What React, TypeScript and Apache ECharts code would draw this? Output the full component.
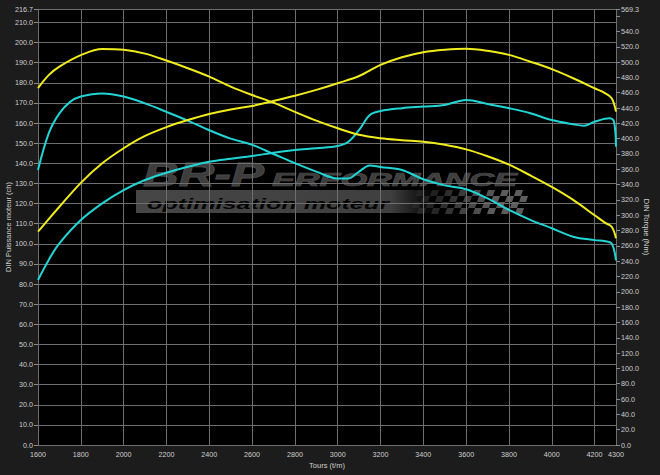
import React, { useEffect, useRef } from "react";
import * as echarts from "echarts";

// Yellow torque (Nm, right axis)
const rpmYellowTorque = [1600, 1650, 1700, 1800, 1900, 2000, 2100, 2200, 2300, 2400, 2500, 2600, 2700, 2800, 2900, 3000, 3100, 3200, 3300, 3400, 3500, 3600, 3700, 3800, 3900, 4000, 4100, 4200, 4250, 4280, 4300];
const yellowTorque = [466, 483, 494, 509, 517, 516, 511, 502, 492, 481, 468, 457, 447, 435, 423.5, 413.5, 405, 400.5, 398, 396, 392, 386, 377, 366, 352, 337, 320, 300, 290, 285, 270];

// Yellow power (ch, left axis)
const rpmYellowPower = [1600, 1650, 1700, 1800, 1900, 2000, 2100, 2200, 2300, 2400, 2500, 2600, 2700, 2800, 2900, 3000, 3100, 3200, 3300, 3400, 3500, 3600, 3700, 3800, 3900, 4000, 4100, 4200, 4250, 4280, 4300];
const yellowPower = [106, 112.3, 118.4, 130.3, 140, 147.5, 153.6, 158, 161.5, 164.5, 166.8, 168.5, 171, 173.6, 176.5, 179.8, 183.4, 188.9, 192.7, 195.2, 196.4, 196.9, 195.9, 193.9, 190.5, 186.8, 182.3, 177.3, 174.8, 172.3, 165.7];

// Cyan torque (Nm, right axis)
const rpmCyanTorque = [1600, 1650, 1700, 1750, 1800, 1900, 2000, 2100, 2200, 2300, 2400, 2500, 2600, 2700, 2800, 2900, 3000, 3050, 3100, 3150, 3200, 3300, 3400, 3500, 3600, 3700, 3800, 3900, 4000, 4100, 4200, 4250, 4280, 4300];
const cyanTorque = [359, 407, 433, 448, 455, 459, 455, 446, 435, 423.5, 411, 400, 392, 380, 368, 357, 348, 348, 357, 365, 363, 359, 347, 339, 334, 322, 307, 294, 283, 272, 267.5, 266, 263, 241];

// Cyan power (ch, left axis)
const rpmCyanPower = [1600, 1650, 1700, 1800, 1900, 2000, 2100, 2200, 2300, 2400, 2500, 2600, 2700, 2800, 2900, 3000, 3050, 3100, 3150, 3200, 3300, 3400, 3500, 3600, 3700, 3800, 3900, 4000, 4100, 4150, 4200, 4270, 4290, 4300];
const cyanPower = [82, 92, 100.2, 111.8, 120.1, 126.7, 131.7, 135.3, 138.3, 140.8, 142.3, 143.6, 145.3, 146.6, 147.5, 148.6, 150.7, 156.6, 164, 166, 167.4, 168.2, 169, 171.5, 169.5, 167.4, 164.9, 161.5, 159.4, 158.7, 160.7, 162.4, 161, 148.3];

const xMin = 1600;
const xMax = 4300;
const xStep = 200;
const leftMax = 216.7;
const leftStep = 10;
const rightMax = 569.3;
const rightStep = 20;

const xTitle = "Tours (t/m)";
const leftTitle = "DIN Puissance moteur (ch)";
const rightTitle = "DIN Torque (Nm)";

const pairs = (xs: number[], ys: number[]) => xs.map((x, i) => [x, ys[i]]);

export default function App() {
  const ref = useRef<HTMLDivElement>(null);

  useEffect(() => {
    if (!ref.current) return;
    const chart = echarts.init(ref.current, null, { renderer: "svg" });

    const labelColor = "#cfcfcf";
    const font = "Liberation Sans";

    const checkers: any[] = [];
    for (let r = 0; r < 4; r++) {
      for (let c = 0; c < 16; c++) {
        if ((r + c) % 2 === 0) {
          const x0 = 412 + c * 7 + (3 - r) * 2;
          const y0 = 190 + r * 6;
          checkers.push({
            type: "polygon",
            shape: {
              points: [
                [x0, y0],
                [x0 + 7, y0],
                [x0 + 5, y0 + 6],
                [x0 - 2, y0 + 6],
              ],
            },
            style: { fill: "#5c5c5c", opacity: Math.min(1, 0.2 + c / 14) },
          });
        }
      }
    }

    const lineSeries = (name: string, axis: number, xs: number[], ys: number[], color: string, z: number) => ({
      type: "line",
      name,
      yAxisIndex: axis,
      data: pairs(xs, ys),
      showSymbol: false,
      smooth: 0.35,
      lineStyle: { color, width: 2 },
      z,
    });

    const option: any = {
      animation: false,
      backgroundColor: "#1c1c1c",
      grid: {
        left: 38,
        right: 44,
        top: 9,
        bottom: 30,
        show: true,
        backgroundColor: "#000000",
        borderWidth: 0,
        outerBoundsMode: "none",
      },
      xAxis: {
        type: "value",
        min: xMin,
        max: xMax,
        interval: xStep,
        name: xTitle,
        nameLocation: "middle",
        nameGap: 16,
        nameMoveOverlap: false,
        nameTextStyle: { color: labelColor, fontSize: 7.5, fontFamily: font },
        axisLine: { show: false },
        axisTick: { show: false },
        axisLabel: {
          color: labelColor,
          fontSize: 7.2,
          fontFamily: font,
          margin: 6,
          showMinLabel: true,
          showMaxLabel: true,
          formatter: (v: number) => String(v),
        },
        splitLine: { show: true, lineStyle: { color: "#6e6e6e", width: 1 } },
      },
      yAxis: [
        {
          type: "value",
          position: "left",
          min: 0,
          max: leftMax,
          interval: leftStep,
          name: leftTitle,
          nameLocation: "middle",
          nameGap: 26,
          nameRotate: 90,
          nameMoveOverlap: false,
          nameTextStyle: { color: labelColor, fontSize: 7.5, fontFamily: font },
          axisLine: { show: false },
          axisTick: { show: true, length: 4, lineStyle: { color: "#8a8a8a" } },
          axisLabel: {
            color: labelColor,
            fontSize: 7.2,
            fontFamily: font,
            margin: 5,
            showMinLabel: true,
            showMaxLabel: true,
            formatter: (v: number) => v.toFixed(1),
          },
          splitLine: { show: true, lineStyle: { color: "#6e6e6e", width: 1 } },
        },
        {
          type: "value",
          position: "right",
          min: 0,
          max: rightMax,
          interval: rightStep,
          name: rightTitle,
          nameLocation: "middle",
          nameGap: 26,
          nameRotate: -90,
          nameMoveOverlap: false,
          nameTextStyle: { color: labelColor, fontSize: 7.5, fontFamily: font },
          axisLine: { show: false },
          axisTick: { show: true, length: 4, lineStyle: { color: "#8a8a8a" } },
          axisLabel: {
            color: labelColor,
            fontSize: 7.2,
            fontFamily: font,
            margin: 5,
            showMinLabel: true,
            showMaxLabel: true,
            formatter: (v: number) => (v === 560 ? "" : v.toFixed(1)),
          },
          splitLine: { show: false },
        },
      ],
      graphic: {
        elements: [
          {
            type: "group",
            z: 1,
            children: [
              {
                type: "rect",
                shape: { x: 136, y: 190, width: 300, height: 23 },
                style: {
                  fill: new echarts.graphic.LinearGradient(0, 0, 1, 0, [
                    { offset: 0, color: "rgba(78,78,78,0.9)" },
                    { offset: 0.85, color: "rgba(70,70,70,0.9)" },
                    { offset: 1, color: "rgba(60,60,60,0)" },
                  ]),
                },
              },
              ...checkers,
              {
                type: "text",
                x: 143,
                y: 175,
                scaleX: 1.5,
                style: {
                  text: "BR-P",
                  fontSize: 33,
                  fontWeight: "bold",
                  fontStyle: "italic",
                  fontFamily: font,
                  fill: "rgba(70,70,70,0.9)",
                  stroke: "rgba(115,115,115,0.7)",
                  lineWidth: 0.8,
                  textAlign: "left",
                  textVerticalAlign: "middle",
                },
              },
              {
                type: "text",
                x: 272,
                y: 179,
                scaleX: 1.8,
                style: {
                  text: "ERFORMANCE",
                  fontSize: 19,
                  fontWeight: "bold",
                  fontStyle: "italic",
                  fontFamily: font,
                  fill: "rgba(70,70,70,0.9)",
                  stroke: "rgba(115,115,115,0.7)",
                  lineWidth: 0.7,
                  textAlign: "left",
                  textVerticalAlign: "middle",
                },
              },
              {
                type: "text",
                x: 147,
                y: 204,
                scaleX: 1.68,
                style: {
                  text: "optimisation moteur",
                  fontSize: 15,
                  fontWeight: "bold",
                  fontStyle: "italic",
                  fontFamily: font,
                  fill: "#050505",
                  textAlign: "left",
                  textVerticalAlign: "middle",
                },
              },
            ],
          },
        ],
      },
      series: [
        lineSeries("Puissance 1", 0, rpmCyanPower, cyanPower, "#22d4d4", 3),
        lineSeries("Couple 1", 1, rpmCyanTorque, cyanTorque, "#22d4d4", 3),
        lineSeries("Puissance 2", 0, rpmYellowPower, yellowPower, "#f0ec1e", 4),
        lineSeries("Couple 2", 1, rpmYellowTorque, yellowTorque, "#f0ec1e", 4),
      ],
    };

    chart.setOption(option);
    return () => chart.dispose();
  }, []);

  return (
    <div
      ref={ref}
      style={{ position: "absolute", left: 0, top: 0, width: 660, height: 475 }}
    />
  );
}
